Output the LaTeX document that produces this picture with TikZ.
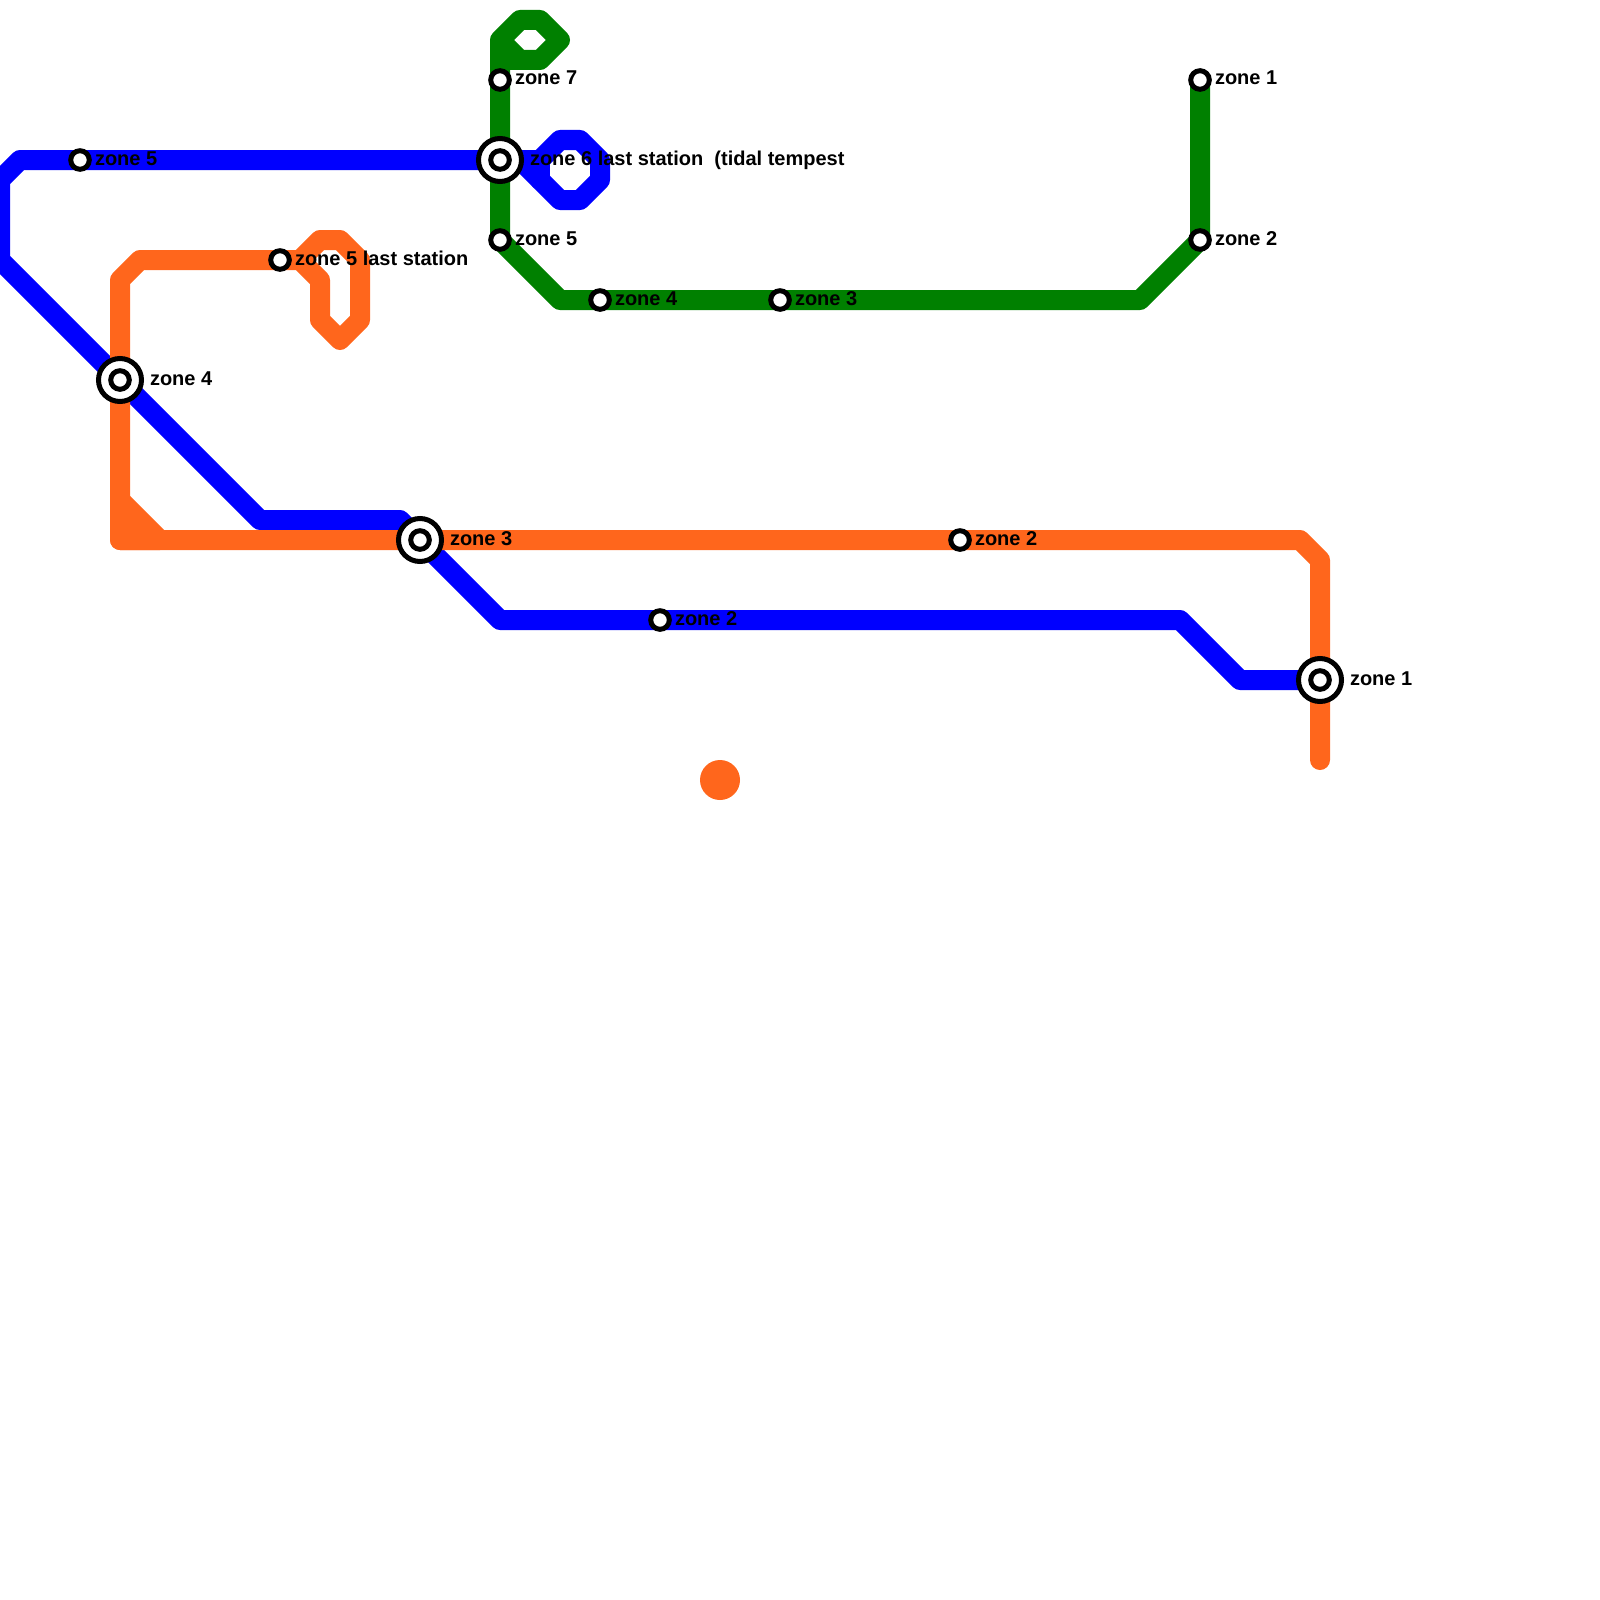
\documentclass[tikz,border=0pt]{standalone}
\usepackage{fontspec}
\setmainfont{Liberation Sans}[BoldFont={Liberation Sans Bold}]
\definecolor{lineblue}{HTML}{0000FF}
\definecolor{linegreen}{HTML}{008000}
\definecolor{lineorange}{HTML}{FF661C}
\tikzset{
  x=0.5pt,y=-0.5pt,
  route/.style={line width=10pt,line cap=round,line join=round},
  stop/.style={circle,draw=black,line width=2.5pt,fill=white,inner sep=0pt,minimum size=9.3pt},
  hub/.style={circle,draw=black,line width=2.5pt,fill=white,inner sep=0pt,minimum size=21.5pt},
  lab/.style={anchor=base west,inner sep=0pt,outer sep=0pt,font=\fontsize{10pt}{12pt}\selectfont\bfseries,text=black}
}
\begin{document}
\begin{tikzpicture}
\useasboundingbox (0,0) rectangle (1600,1600);
% named positions of stations
\coordinate (g1) at (1200,80);
\coordinate (g2) at (1200,240);
\coordinate (g3) at (780,300);
\coordinate (g4) at (600,300);
\coordinate (g5) at (500,240);
\coordinate (g7) at (500,80);
\coordinate (x6) at (500,160);
\coordinate (b5) at (80,160);
\coordinate (x4) at (120,380);
\coordinate (x3) at (420,540);
\coordinate (b2) at (660,620);
\coordinate (x1) at (1320,680);
\coordinate (o5) at (280,260);
\coordinate (o2) at (960,540);
% blue line
\draw[route,lineblue] (x6) -- (b5) -- (20,160) -- (0,180) -- (0,260) -- (x4) -- (260,520) -- (400,520) -- (x3) -- (500,620) -- (b2) -- (1180,620) -- (1240,680) -- (x1);
\draw[route,lineblue] (x6) -- (540,160) -- (560,140) -- (580,140) -- (600,160) -- (600,180) -- (580,200) -- (560,200) -- (520,160) -- (x6);
\draw[route,lineblue] (540,160) -- (540,180);
% green line
\draw[route,linegreen] (g1) -- (g2) -- (1140,300) -- (g3) -- (g4) -- (560,300) -- (g5) -- (x6) -- (g7) -- (500,40) -- (520,20) -- (540,20) -- (560,40) -- (540,60) -- (520,60) -- (500,40);
\draw[route,linegreen] (520,60) -- (500,60);
% orange line
\draw[route,lineorange] (1320,760) -- (x1) -- (1320,560) -- (1300,540) -- (o2) -- (x3) -- (120,540) -- (x4) -- (120,280) -- (140,260) -- (o5) -- (300,260) -- (320,280) -- (320,320) -- (340,340) -- (360,320) -- (360,260) -- (340,240) -- (320,240) -- (300,260);
\draw[route,lineorange,fill=lineorange] (120,500) -- (160,540) -- (120,540) -- cycle;
\fill[lineorange] (720,780) circle[radius=20];
% stations
\node[stop] (sg1) at (g1) {};
\node[stop] (sg2) at (g2) {};
\node[stop] (sg3) at (g3) {};
\node[stop] (sg4) at (g4) {};
\node[stop] (sg5) at (g5) {};
\node[stop] (sg7) at (g7) {};
\node[stop] (sb5) at (b5) {};
\node[stop] (sb2) at (b2) {};
\node[stop] (so5) at (o5) {};
\node[stop] (so2) at (o2) {};
\node[hub] (hx6) at (x6) {}; \node[stop] (ix6) at (x6) {};
\node[hub] (hx4) at (x4) {}; \node[stop] (ix4) at (x4) {};
\node[hub] (hx3) at (x3) {}; \node[stop] (ix3) at (x3) {};
\node[hub] (hx1) at (x1) {}; \node[stop] (ix1) at (x1) {};
% labels
\node[lab] (lg1) at (1215,85) {zone 1};
\node[lab] (lg2) at (1215,245) {zone 2};
\node[lab] (lg3) at (795,305) {zone 3};
\node[lab] (lg4) at (615,305) {zone 4};
\node[lab] (lg5) at (515,245) {zone 5};
\node[lab] (lg7) at (515,85) {zone 7};
\node[lab] (lb5) at (95,165) {zone 5};
\node[lab] (lb2) at (675,625) {zone 2};
\node[lab] (lo5) at (295,265) {zone 5 last station};
\node[lab] (lo2) at (975,545) {zone 2};
\node[lab] (lx6) at (530,165) {zone 6 last station\ \ (tidal tempest};
\node[lab] (lx4) at (150,385) {zone 4};
\node[lab] (lx3) at (450,545) {zone 3};
\node[lab] (lx1) at (1350,685) {zone 1};
\end{tikzpicture}
\end{document}
